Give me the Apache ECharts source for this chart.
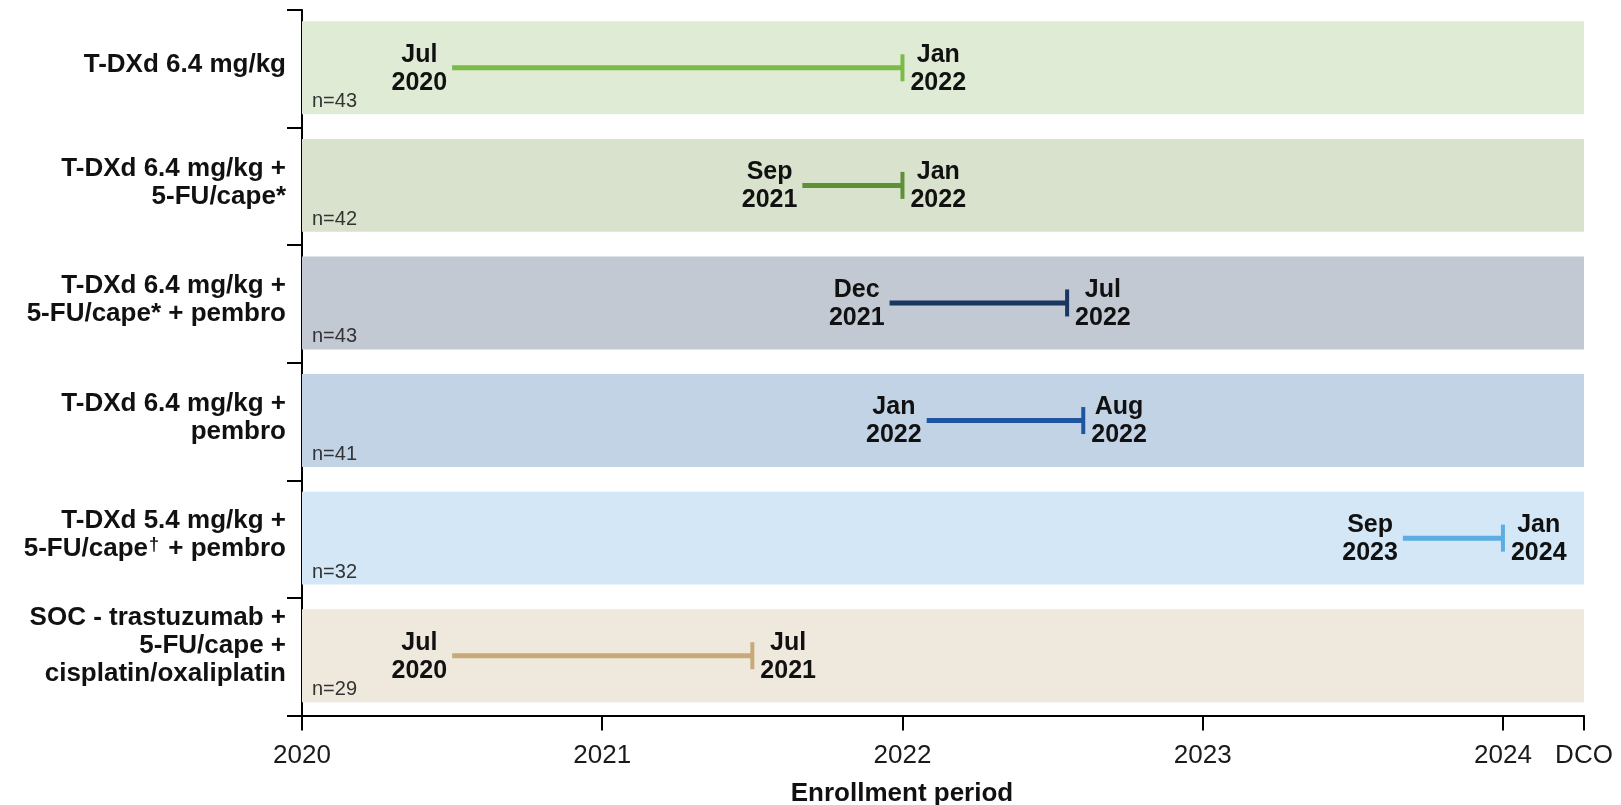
<!DOCTYPE html>
<html>
<head>
<meta charset="utf-8">
<title>Enrollment period by arm</title>
<script src="https://cdn.jsdelivr.net/npm/echarts@6/dist/echarts.min.js"></script>
<style>
  html, body { margin: 0; padding: 0; background: #ffffff; }
  #chart { width: 1621px; height: 805px; }
</style>
</head>
<body>
<div id="chart"></div>
<script>
// Treatment arms (top to bottom)
const armLabels = [
  'T-DXd 6.4 mg/kg',
  'T-DXd 6.4 mg/kg +\n5-FU/cape*',
  'T-DXd 6.4 mg/kg +\n5-FU/cape* + pembro',
  'T-DXd 6.4 mg/kg +\npembro',
  'T-DXd 5.4 mg/kg +\n5-FU/cape\u2020 + pembro',
  'SOC - trastuzumab +\n5-FU/cape +\ncisplatin/oxaliplatin'
];
const armSizes = [43, 42, 43, 41, 32, 29];

// Enrollment windows (first and last enrollment dates)
const enrollStart = ['2020-07-01', '2021-09-01', '2021-12-16', '2022-01-31', '2023-09-01', '2020-07-01'];
const enrollEnd   = ['2022-01-01', '2022-01-01', '2022-07-19', '2022-08-08', '2024-01-01', '2021-07-01'];

// Axis ticks
const yearTicks = [2020, 2021, 2022, 2023, 2024];
const dcoYear = 2024.27;
const dcoLabel = 'DCO';
const axisTitle = 'Enrollment period';

// Styling
const bandColors = ['#e0ebd5', '#d9e2cc', '#c2c9d3', '#c3d3e6', '#d3e7f6', '#efe8dd'];
const lineColors = ['#7aba46', '#5e9038', '#1a3560', '#1f55a0', '#5caee2', '#c8aa7a'];
const FONT = '"Liberation Sans", Arial, Helvetica, sans-serif';
const DATE_FONT_SIZE = 25;
const MONTHS = ['Jan', 'Feb', 'Mar', 'Apr', 'May', 'Jun', 'Jul', 'Aug', 'Sep', 'Oct', 'Nov', 'Dec'];

function toYear(s) {
  const [y, m, d] = s.split('-').map(Number);
  const daysInMonth = new Date(y, m, 0).getDate();
  return y + (m - 1 + (d - 1) / daysInMonth) / 12;
}
function monthLabel(s) {
  const [y, m] = s.split('-').map(Number);
  return MONTHS[m - 1] + '\n' + y;
}

// width of the widest line of a two-line date label, so the lines can be centred on each other
const measureCtx = document.createElement('canvas').getContext('2d');
measureCtx.font = 'bold ' + DATE_FONT_SIZE + 'px ' + FONT;
function labelWidth(text) {
  return Math.max.apply(null, text.split('\n').map(t => measureCtx.measureText(t).width));
}

const bandData = armLabels.map((_, i) => [yearTicks[0], dcoYear, i]);
const segData = armLabels.map((_, i) => [toYear(enrollStart[i]), toYear(enrollEnd[i]), i]);

function renderBand(params, api) {
  const i = api.value(2);
  const a = api.coord([api.value(0), i]);
  const b = api.coord([api.value(1), i]);
  const h = api.size([0, 1])[1] * 0.79;
  return {
    type: 'group',
    children: [
      {
        type: 'rect',
        shape: { x: a[0], y: a[1] - h / 2 - 1, width: b[0] - a[0], height: h },
        style: { fill: bandColors[i] }
      },
      {
        type: 'text',
        style: {
          text: 'n=' + armSizes[i],
          x: a[0] + 10, y: a[1] + 33,
          align: 'left', verticalAlign: 'middle',
          fontFamily: FONT, fontSize: 20, fill: '#333333'
        }
      }
    ]
  };
}

function renderSegment(params, api) {
  const i = api.value(2);
  const p0 = api.coord([api.value(0), i]);
  const p1 = api.coord([api.value(1), i]);
  const color = lineColors[i];
  const y = p0[1] - 1;
  const startText = monthLabel(enrollStart[i]);
  const endText = monthLabel(enrollEnd[i]);
  const labelStyle = {
    fontFamily: FONT, fontSize: DATE_FONT_SIZE, fontWeight: 'bold',
    lineHeight: 28, fill: '#111111', verticalAlign: 'middle', align: 'center'
  };
  return {
    type: 'group',
    children: [
      {
        type: 'line',
        shape: { x1: p0[0], y1: y, x2: p1[0], y2: y },
        style: { stroke: color, lineWidth: 5 }
      },
      {
        type: 'line',
        shape: { x1: p1[0], y1: y - 13.5, x2: p1[0], y2: y + 13.5 },
        style: { stroke: color, lineWidth: 4 }
      },
      {
        type: 'text',
        style: Object.assign({ text: startText, x: p0[0] - 5 - labelWidth(startText) / 2, y: y + 1 }, labelStyle)
      },
      {
        type: 'text',
        style: Object.assign({ text: endText, x: p1[0] + 8 + labelWidth(endText) / 2, y: y + 1 }, labelStyle)
      }
    ]
  };
}

// category labels: dagger drawn as a small raised mark; the three-line label sits a little higher
const yAxisData = armLabels.map(label => {
  const lines = label.split('\n').length;
  return {
    value: label,
    textStyle: { padding: [0, 0, lines > 2 ? 22 : 8, 0] }
  };
});

const chart = echarts.init(document.getElementById('chart'), null, { renderer: 'canvas' });

chart.setOption({
  animation: false,
  backgroundColor: '#ffffff',
  grid: { left: 302, right: 37, top: 10, bottom: 89.5, containLabel: false },
  xAxis: {
    type: 'value',
    min: yearTicks[0],
    max: dcoYear,
    interval: 1,
    splitLine: { show: false },
    axisLine: { show: true, lineStyle: { color: '#000000', width: 2 } },
    axisTick: { show: true, length: 15, lineStyle: { color: '#000000', width: 2 } },
    axisLabel: {
      margin: 27,
      fontFamily: FONT,
      fontSize: 26,
      color: '#1a1a1a',
      showMinLabel: true,
      showMaxLabel: true,
      formatter: v => (yearTicks.indexOf(Math.round(v * 1000) / 1000) >= 0 ? String(v) : dcoLabel)
    }
  },
  yAxis: {
    type: 'category',
    inverse: true,
    data: yAxisData,
    axisLine: { show: true, lineStyle: { color: '#000000', width: 2 } },
    axisTick: { show: true, length: 15, alignWithLabel: false, lineStyle: { color: '#000000', width: 2 } },
    axisLabel: {
      margin: 16,
      fontFamily: FONT,
      fontSize: 26,
      fontWeight: 'bold',
      lineHeight: 28,
      color: '#111111',
      align: 'right',
      formatter: v => v.replace('\u2020', '{sup|\u2020}'),
      rich: {
        sup: {
          fontFamily: FONT,
          fontSize: 18,
          fontWeight: 'bold',
          color: '#111111',
          lineHeight: 18,
          verticalAlign: 'top',
          padding: [1, 2, 0, 1]
        }
      }
    }
  },
  graphic: [
    {
      type: 'text',
      x: 902, y: 794,
      style: {
        text: axisTitle,
        align: 'center', verticalAlign: 'middle',
        fontFamily: FONT, fontSize: 26, fontWeight: 'bold', fill: '#111111'
      }
    }
  ],
  series: [
    {
      type: 'custom',
      name: 'bands',
      renderItem: renderBand,
      encode: { x: [0, 1], y: 2 },
      data: bandData,
      silent: true,
      clip: false,
      z: 1
    },
    {
      type: 'custom',
      name: 'enrollment',
      renderItem: renderSegment,
      encode: { x: [0, 1], y: 2 },
      data: segData,
      silent: true,
      clip: false,
      z: 2
    }
  ]
});
</script>
</body>
</html>
